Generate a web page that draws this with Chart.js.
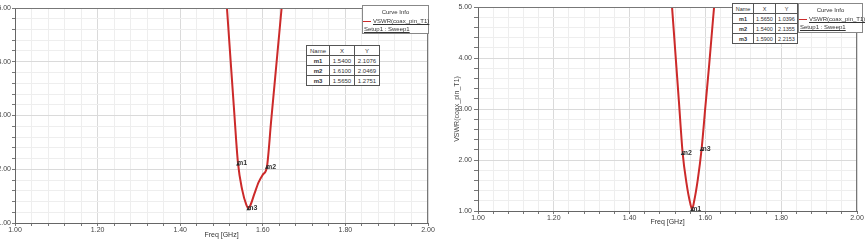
<!DOCTYPE html>
<html>
<head>
<meta charset="utf-8">
<script src="https://cdn.jsdelivr.net/npm/chart.js@4/dist/chart.umd.min.js"></script>
<style>
body { margin: 0; background: #fff; width: 865px; height: 244px; overflow: hidden; position: relative; font-family: "Liberation Sans", Arial, sans-serif; }
canvas { position: absolute; top: 0; }
#left { left: -25px; }
#right { left: 440px; }
.mtable { position: absolute; border-collapse: collapse; font-size: 6px; background: #fff; table-layout: fixed; }
.mtable td { border: 1px solid #555; text-align: center; padding: 0; height: 9px; line-height: 8px; color: #333; overflow: hidden; white-space: nowrap; }
.mtable td.nm { font-weight: bold; }
.info { position: absolute; background: #fff; border: 1px solid #888; font-size: 6px; color: #333; box-sizing: border-box; }
.info .ttl { text-align: center; margin-top: 3px; }
.info .row { margin-top: 3px; white-space: nowrap; text-align: right; padding-right: 2px; }
.info .row span.ln { display: inline-block; width: 8px; border-top: 1.5px solid #cc2a2a; vertical-align: middle; margin-right: 2px; }
.info u { text-decoration: underline; }
.info .setup { margin-top: 2px; padding-left: 1px; white-space: nowrap; }
</style>
</head>
<body>
<canvas id="left" width="460" height="244"></canvas>
<canvas id="right" width="425" height="244"></canvas>
<div id="overlay"></div>
<script>
// left plot (first design)
const leftFreq = [1.50, 1.51, 1.52, 1.53, 1.54, 1.55, 1.56, 1.565, 1.57, 1.58, 1.59, 1.60, 1.61, 1.62, 1.63, 1.64, 1.65];
const leftVswr = [6.4, 5.35, 4.25, 3.15, 2.1076, 1.62, 1.34, 1.2751, 1.33, 1.55, 1.76, 1.90, 2.0469, 2.88, 3.71, 4.54, 5.37];
const leftMarkerNames = ['m1', 'm2', 'm3'];
const leftMarkerX = [1.5400, 1.6100, 1.5650];
const leftMarkerY = [2.1076, 2.0469, 1.2751];

// right plot (second design)
const rightFreq = [1.50, 1.51, 1.52, 1.53, 1.54, 1.55, 1.56, 1.565, 1.57, 1.58, 1.59, 1.60, 1.61, 1.62, 1.63];
const rightVswr = [6.2, 5.2, 4.18, 3.16, 2.1355, 1.55, 1.15, 1.0396, 1.18, 1.62, 2.2153, 3.05, 3.87, 4.75, 5.6];
const rightMarkerNames = ['m1', 'm2', 'm3'];
const rightMarkerX = [1.5650, 1.5400, 1.5900];
const rightMarkerY = [1.0396, 2.1355, 2.2153];

const LINE_COLOR = '#cc2a2a';
const FONT = '"Liberation Sans", Arial, sans-serif';

const isMajorX = v => Math.round(v * 100) % 20 === 0;
const isMajorY = v => Math.round(v * 10) % 10 === 0;

// frame on top/right and the m1..m3 marker labels
const framePlugin = {
    id: 'frame',
    afterDatasetsDraw(chart, args, opts) {
        const { ctx, chartArea: a, scales: { x, y } } = chart;
        ctx.save();
        ctx.strokeStyle = '#777';
        ctx.lineWidth = 1;
        ctx.beginPath();
        ctx.moveTo(a.left, a.top + 0.5);
        ctx.lineTo(a.right, a.top + 0.5);
        ctx.moveTo(a.right - 0.5, a.top);
        ctx.lineTo(a.right - 0.5, a.bottom);
        ctx.stroke();

        ctx.font = 'bold 7px ' + FONT;
        ctx.textBaseline = 'middle';
        opts.names.forEach((name, i) => {
            const px = x.getPixelForValue(opts.xs[i]);
            const py = y.getPixelForValue(opts.ys[i]);
            ctx.fillStyle = '#222';
            ctx.beginPath();
            ctx.moveTo(px - 2, py + 2);
            ctx.lineTo(px + 2, py + 2);
            ctx.lineTo(px, py - 1);
            ctx.closePath();
            ctx.fill();
            ctx.fillStyle = '#333';
            ctx.fillText(name, px - 1, py);
        });
        ctx.restore();
    }
};

function makeChart(id, freq, vswr, names, xs, ys, cfg) {
    return new Chart(document.getElementById(id), {
        type: 'line',
        data: {
            datasets: [{
                data: freq.map((f, i) => ({ x: f, y: vswr[i] })),
                borderColor: LINE_COLOR,
                borderWidth: 2,
                pointRadius: 0,
                cubicInterpolationMode: 'monotone',
                fill: false,
            }]
        },
        options: {
            responsive: false,
            animation: false,
            layout: { padding: cfg.padding },
            plugins: {
                legend: { display: false },
                tooltip: { enabled: false },
                frame: { names, xs, ys },
            },
            scales: {
                x: {
                    type: 'linear',
                    min: 1, max: 2,
                    afterFit: s => { s.height = cfg.xHeight; },
                    ticks: {
                        stepSize: 0.04,
                        autoSkip: false,
                        maxRotation: 0,
                        padding: 0,
                        color: '#444',
                        font: { size: 7, family: FONT },
                        callback: v => isMajorX(v) ? v.toFixed(2) : '',
                    },
                    grid: {
                        color: c => c.tick && isMajorX(c.tick.value) ? '#dadada' : '#eeeeee',
                        tickLength: 3,
                        tickColor: '#777',
                    },
                    border: { color: '#666' },
                    title: {
                        display: true,
                        text: 'Freq [GHz]',
                        color: '#333',
                        font: { size: 7, family: FONT },
                        padding: 0,
                    },
                },
                y: {
                    type: 'linear',
                    min: 1, max: 5,
                    afterFit: s => { s.width = cfg.yWidth; },
                    ticks: {
                        stepSize: 0.2,
                        autoSkip: false,
                        padding: cfg.yPad,
                        color: '#444',
                        font: { size: 7, family: FONT },
                        callback: v => isMajorY(v) ? v.toFixed(2) : '',
                    },
                    grid: {
                        color: c => c.tick && isMajorY(c.tick.value) ? '#dadada' : '#eeeeee',
                        tickLength: cfg.yTick,
                        tickColor: '#777',
                    },
                    border: { color: '#666' },
                    title: cfg.yTitle,
                },
            },
        },
        plugins: [framePlugin],
    });
}

makeChart('left', leftFreq, leftVswr, leftMarkerNames, leftMarkerX, leftMarkerY, {
    padding: { left: 0, right: 7, top: 8, bottom: 5 },
    xHeight: 16, yWidth: 40, yPad: 1, yTick: 3,
    yTitle: { display: false },
});

makeChart('right', rightFreq, rightVswr, rightMarkerNames, rightMarkerX, rightMarkerY, {
    padding: { left: 0, right: 8, top: 7, bottom: 18 },
    xHeight: 15, yWidth: 38, yPad: 2, yTick: 4,
    yTitle: {
        display: true,
        text: 'VSWR(coax_pin_T1)',
        color: '#444',
        font: { size: 7, family: FONT },
        padding: { top: 13, bottom: 0 },
    },
});

// marker tables and curve info boxes
const overlay = document.getElementById('overlay');

function addTable(left, top, colW, fontSize, names, xs, ys) {
    const t = document.createElement('table');
    t.className = 'mtable';
    t.style.left = left + 'px';
    t.style.top = top + 'px';
    t.style.fontSize = fontSize + 'px';
    let html = '<colgroup>' + colW.map(w => `<col style="width:${w}px">`).join('') + '</colgroup>';
    html += '<tr><td>Name</td><td>X</td><td>Y</td></tr>';
    names.forEach((n, i) => {
        html += `<tr><td class="nm">${n}</td><td>${xs[i].toFixed(4)}</td><td>${ys[i].toFixed(4)}</td></tr>`;
    });
    t.innerHTML = html;
    overlay.appendChild(t);
}

function addInfo(left, top, w, h) {
    const d = document.createElement('div');
    d.className = 'info';
    d.style.left = left + 'px';
    d.style.top = top + 'px';
    d.style.width = w + 'px';
    d.style.height = h + 'px';
    d.innerHTML = '<div class="ttl">Curve Info</div>' +
        '<div class="row"><span class="ln"></span><u>VSWR(coax_pin_T1)</u></div>' +
        '<div class="setup"><u>Setup1 : Sweep1</u></div>';
    overlay.appendChild(d);
}

addTable(306, 45, [23, 25, 25], 6, leftMarkerNames, leftMarkerX, leftMarkerY);
addTable(732, 3, [21, 22, 22], 5.5, rightMarkerNames, rightMarkerX, rightMarkerY);
addInfo(362, 5, 67, 29);
addInfo(798, 3, 65, 30);
</script>
</body>
</html>
